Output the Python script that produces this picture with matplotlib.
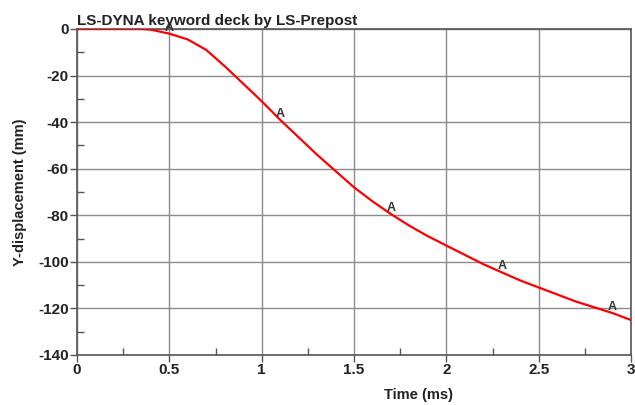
import numpy as np
import matplotlib.pyplot as plt
from matplotlib.ticker import MultipleLocator

plt.rcParams['font.family'] = ['Liberation Sans', 'DejaVu Sans']
plt.rcParams['font.weight'] = 'bold'
plt.rcParams['axes.unicode_minus'] = False

# curve
time_ms = [0, 0.1, 0.2, 0.3, 0.35, 0.4, 0.5, 0.6, 0.7, 0.8, 0.9, 1.0, 1.1, 1.2,
           1.3, 1.4, 1.5, 1.6, 1.7, 1.8, 1.9, 2.0, 2.1, 2.2, 2.3, 2.4, 2.5,
           2.6, 2.7, 2.8, 2.9, 3.0]
y_disp = [0, 0, 0, 0, 0, -0.3, -2, -4.5, -9, -16, -23.5, -31, -39, -46.5,
          -54, -61, -68, -74, -79.5, -84.5, -89, -93, -97, -101, -104.5, -108,
          -111, -114, -117, -119.5, -122, -125]
label_times = [0.5, 1.1, 1.7, 2.3, 2.9]

fig = plt.figure(figsize=(6.35, 4.05), dpi=100)
ax = fig.add_axes([0.1213, 0.1235, 0.8724, 0.8049])

ax.plot(time_ms, y_disp, color='#ff0000', lw=1.6, zorder=3)
for t in label_times:
    ax.text(t, np.interp(t, time_ms, y_disp), 'A', ha='center', va='bottom',
            fontsize=9, color='#333333', zorder=4)

ax.set_xlim(0, 3)
ax.set_ylim(-140, 0)
ax.xaxis.set_major_locator(MultipleLocator(0.5))
ax.xaxis.set_minor_locator(MultipleLocator(0.25))
ax.yaxis.set_major_locator(MultipleLocator(20))
ax.yaxis.set_minor_locator(MultipleLocator(10))
ax.xaxis.set_major_formatter(plt.FuncFormatter(lambda v, p: f'{v:g}'))

ax.grid(True, which='major', color='#8c8c8c', lw=1.0)
ax.tick_params(which='major', direction='out', length=5, width=1, color='#555555',
               labelsize=11, pad=1, labelcolor='#222222')
ax.tick_params(which='minor', direction='in', length=5, width=1, color='#555555')
for s in ax.spines.values():
    s.set_color('#555555')
    s.set_linewidth(1.2)

ax.set_xlabel('Time (ms)', fontsize=10.5, fontweight='bold', color='#222222')
ax.xaxis.set_label_coords(0.616, -0.1)
ax.set_ylabel('Y-displacement (mm)', fontsize=10.5, fontweight='bold', color='#222222')
ax.yaxis.set_label_coords(-0.09, 0.5)
ax.set_title('LS-DYNA keyword deck by LS-Prepost', loc='left', fontsize=11,
             fontweight='bold', color='#222222', pad=3)

fig.savefig('out.png', dpi=100)
